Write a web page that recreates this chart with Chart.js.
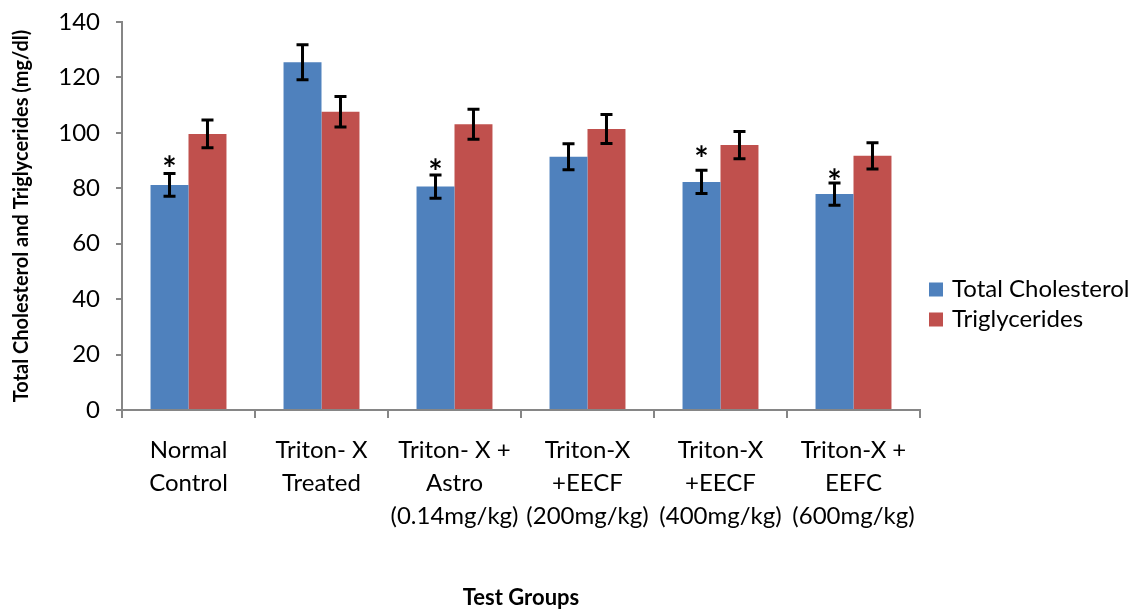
<!DOCTYPE html>
<html>
<head>
<meta charset="utf-8">
<script src="https://cdn.jsdelivr.net/npm/chart.js@4.4.1/dist/chart.umd.min.js"></script>
<style>
  html, body { margin: 0; padding: 0; background: #fff; }
  #wrap { width: 1135px; height: 609px; }
</style>
</head>
<body>
<div id="wrap"><canvas id="chart" width="1135" height="609"></canvas></div>
<script>
// data
const groups = [
  ["Normal", "Control"],
  ["Triton- X", "Treated"],
  ["Triton- X +", "Astro", "(0.14mg/kg)"],
  ["Triton-X", "+EECF", "(200mg/kg)"],
  ["Triton-X", "+EECF", "(400mg/kg)"],
  ["Triton-X +", "EEFC", "(600mg/kg)"]
];
const cholesterol = [81.2, 125.5, 80.6, 91.4, 82.3, 77.9];
const cholesterolErr = [4.1, 6.3, 4.2, 4.7, 4.2, 4.0];
const triglycerides = [99.6, 107.6, 103.1, 101.4, 95.6, 91.7];
const triglyceridesErr = [5.0, 5.5, 5.4, 5.2, 4.9, 4.7];
// where the "*" marks sit (in mg/dl), null = no mark
const sigMarks = [89.5, null, 88.4, null, 93.2, 84.8];
const yTicks = [0, 20, 40, 60, 80, 100, 120, 140];

const FONT = "Lato, 'Open Sans', sans-serif";
const AXIS = "#868686";

// error bars + asterisks
const errorBars = {
  id: "errorBars",
  afterDatasetsDraw(chart) {
    const ctx = chart.ctx;
    const y = chart.scales.y;
    ctx.save();
    ctx.strokeStyle = "#000";
    ctx.lineWidth = 3;
    chart.data.datasets.forEach((ds, di) => {
      const meta = chart.getDatasetMeta(di);
      meta.data.forEach((bar, i) => {
        const v = ds.data[i], e = ds.errors[i];
        const top = y.getPixelForValue(v + e);
        const bot = y.getPixelForValue(v - e);
        ctx.beginPath();
        ctx.moveTo(bar.x, top); ctx.lineTo(bar.x, bot);
        ctx.moveTo(bar.x - 6, top); ctx.lineTo(bar.x + 6, top);
        ctx.moveTo(bar.x - 6, bot); ctx.lineTo(bar.x + 6, bot);
        ctx.stroke();
      });
    });
    // significance stars over cholesterol bars
    const meta0 = chart.getDatasetMeta(0);
    ctx.fillStyle = "#000";
    ctx.font = "bold 34px " + FONT;
    ctx.textAlign = "center";
    ctx.textBaseline = "alphabetic";
    sigMarks.forEach((m, i) => {
      if (m == null) return;
      ctx.fillText("*", meta0.data[i].x, y.getPixelForValue(m) + 19);
    });
    ctx.restore();
  }
};

// legend on the right, drawn by hand to sit at mid-height like the original
const sideLegend = {
  id: "sideLegend",
  afterDraw(chart) {
    const ctx = chart.ctx;
    const x0 = chart.chartArea.right + 9;
    const mid = chart.height / 2;
    ctx.save();
    ctx.font = "24px " + FONT;
    ctx.textBaseline = "middle";
    ctx.textAlign = "left";
    chart.data.datasets.forEach((ds, i) => {
      const cy = mid - 15 + i * 30;
      ctx.fillStyle = ds.backgroundColor;
      ctx.fillRect(x0, cy - 7, 14, 14);
      ctx.fillStyle = "#000";
      ctx.fillText(ds.label, x0 + 23, cy);
    });
    ctx.restore();
  }
};

new Chart(document.getElementById("chart"), {
  type: "bar",
  data: {
    labels: groups,
    datasets: [
      {
        label: "Total Cholesterol",
        data: cholesterol,
        errors: cholesterolErr,
        backgroundColor: "#4F81BD",
        categoryPercentage: 0.571,
        barPercentage: 1
      },
      {
        label: "Triglycerides",
        data: triglycerides,
        errors: triglyceridesErr,
        backgroundColor: "#C0504D",
        categoryPercentage: 0.571,
        barPercentage: 1
      }
    ]
  },
  options: {
    responsive: false,
    animation: false,
    devicePixelRatio: 1,
    layout: { padding: { left: 0, right: 215, top: 22, bottom: 0 } },
    plugins: {
      legend: { display: false },
      tooltip: { enabled: false }
    },
    scales: {
      x: {
        afterFit(s) { s.height = 199; },
        grid: { drawOnChartArea: false, offset: true, tickLength: 8, color: AXIS, lineWidth: 2 },
        border: { color: AXIS, width: 2 },
        ticks: {
          color: "#000",
          padding: 16,
          maxRotation: 0,
          autoSkip: false,
          font: { family: FONT, size: 24, lineHeight: 1.375 }
        },
        title: {
          display: true,
          text: "Test Groups",
          color: "#000",
          padding: { top: 0, bottom: 0 },
          font: { family: FONT, size: 22, weight: "bold", lineHeight: 1 }
        }
      },
      y: {
        min: 0,
        max: 140,
        afterFit(s) { s.width = 122; s.paddingTop = 0; s.paddingBottom = 0; },
        afterBuildTicks(s) { s.ticks = yTicks.map(v => ({ value: v })); },
        grid: { drawOnChartArea: false, tickLength: 6, color: AXIS, lineWidth: 2 },
        border: { color: AXIS, width: 2 },
        ticks: {
          color: "#000",
          padding: 16,
          font: { family: FONT, size: 24 }
        },
        title: {
          display: true,
          text: "Total Cholesterol and Triglycerides (mg/dl)",
          color: "#000",
          padding: { top: 12, bottom: 0 },
          font: { family: FONT, size: 20, weight: "bold", lineHeight: 1 }
        }
      }
    }
  },
  plugins: [errorBars, sideLegend]
});
</script>
</body>
</html>
